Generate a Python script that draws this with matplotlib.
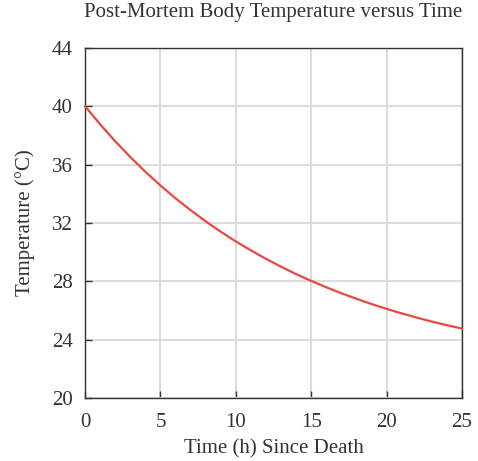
import matplotlib
matplotlib.use("Agg")
import matplotlib.pyplot as plt

hours = [0, 1, 2, 3, 4, 5, 6, 7, 8, 9, 10, 11, 12, 13, 14, 15, 16, 17, 18, 19, 20, 21, 22, 23, 24, 25]
temperature = [40.0, 38.76, 37.60, 36.52, 35.51, 34.57, 33.69, 32.88, 32.11, 31.40, 30.73,
               30.12, 29.54, 29.00, 28.49, 28.03, 27.59, 27.18, 26.80, 26.44, 26.11,
               25.80, 25.51, 25.24, 24.99, 24.76]
x_ticks = [0, 5, 10, 15, 20, 25]
y_ticks = [20, 24, 28, 32, 36, 40, 44]

plt.rcParams['font.family'] = ['Liberation Serif', 'DejaVu Serif']

fig = plt.figure(figsize=(4.78, 4.61), dpi=100)
ax = fig.add_axes([0.178, 0.1367, 0.7885, 0.7593])

ax.plot(hours, temperature, color='#e8483f', lw=1.6, zorder=3, clip_on=False)

ax.set_xlim(0, 25)
ax.set_ylim(20, 44)
ax.set_xticks(x_ticks)
ax.set_yticks(y_ticks)
ax.grid(True, color='#dcdcdc', lw=1.5, zorder=0)
ax.set_axisbelow(True)
ax.tick_params(direction='in', length=5, width=1, color='#333333', labelsize=15,
               labelcolor='#333333')
ax.tick_params(axis='y', pad=9)
ax.tick_params(axis='x', pad=11)
for s in ax.spines.values():
    s.set_color('#333333')
    s.set_linewidth(1.0)

ax.set_title('Post-Mortem Body Temperature versus Time', fontsize=15, color='#333333', pad=22)
ax.set_xlabel('Time (h) Since Death', fontsize=15, color='#333333', labelpad=5)
ax.set_ylabel('Temperature (°C)', fontsize=15, color='#333333', labelpad=12)

fig.savefig('out.png', dpi=100)
